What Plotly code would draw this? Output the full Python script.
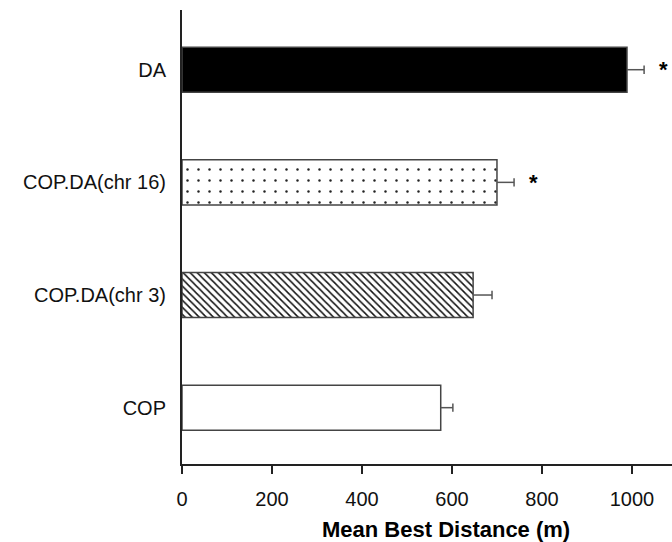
import plotly.graph_objects as go

categories = ["COP", "COP.DA(chr 3)", "COP.DA(chr 16)", "DA"]
means = [575, 647, 700, 989]
errors = [27, 42, 38, 38]
significant = [False, False, True, True]
x_ticks = [0, 200, 400, 600, 800, 1000]

ypos = list(range(len(categories)))

patterns = [
    dict(shape="", fillmode="replace"),
    dict(shape="\\", size=5, solidity=0.3, fgcolor="#111111", bgcolor="white", fillmode="replace"),
    dict(shape=".", size=11, solidity=0.04, fgcolor="#222222", bgcolor="white", fillmode="replace"),
    dict(shape="", fillmode="replace"),
]
colors = ["white", "white", "white", "black"]

fig = go.Figure()
for i, cat in enumerate(categories):
    fig.add_trace(go.Bar(
        x=[means[i]], y=[ypos[i]], orientation="h", width=0.4,
        marker=dict(color=colors[i], line=dict(color="#444444", width=1.5),
                    pattern=patterns[i]),
        showlegend=False, hoverinfo="skip",
    ))

# one-sided error bars (line from bar end to mean+error, with an end cap)
err_x, err_y = [], []
for m, e, p in zip(means, errors, ypos):
    err_x += [m, m + e, None]
    err_y += [p, p, None]
fig.add_trace(go.Scatter(x=err_x, y=err_y, mode="lines", line=dict(color="#555555", width=1.5),
                         showlegend=False, hoverinfo="skip", cliponaxis=False))
fig.add_trace(go.Scatter(x=[m + e for m, e in zip(means, errors)], y=ypos, mode="markers",
                         marker=dict(symbol="line-ns", size=6, line=dict(color="#555555", width=1.5)),
                         showlegend=False, hoverinfo="skip", cliponaxis=False))

for i, sig in enumerate(significant):
    if sig:
        fig.add_annotation(x=means[i] + errors[i], y=ypos[i], text="<b>*</b>",
                           showarrow=False, xanchor="center", yanchor="middle",
                           xshift=19, font=dict(size=22, color="black"))

fig.add_annotation(x=0.539, y=-(529 - 464) / (542 - 10 - 78), xref="paper", yref="paper",
                   text="<b>Mean Best Distance (m)</b>", yanchor="middle",
                   showarrow=False, font=dict(size=22, color="black"))

fig.update_layout(
    width=672, height=542,
    margin=dict(l=182, r=0, t=10, b=78, autoexpand=False),
    plot_bgcolor="white", paper_bgcolor="white",
    font=dict(family="Liberation Sans, Arial, sans-serif", size=20, color="#111111"),
    bargap=0.6,
)
fig.update_xaxes(range=[0, 1089], tickvals=x_ticks, ticks="outside", ticklen=8, tickwidth=2,
                 tickcolor="#222222", showline=True, linecolor="#222222", linewidth=2,
                 showgrid=False, zeroline=False, automargin=False, ticklabelstandoff=8)
fig.update_yaxes(range=[-0.5, 3.53], tickvals=ypos, ticktext=categories, ticks="",
                 showline=True, linecolor="#222222", linewidth=2, showgrid=False,
                 zeroline=False, ticklabelstandoff=10, automargin=False)

fig.write_html("out.html", config={"displayModeBar": False},
               post_script="document.body.style.margin='0';document.body.style.padding='0';")
